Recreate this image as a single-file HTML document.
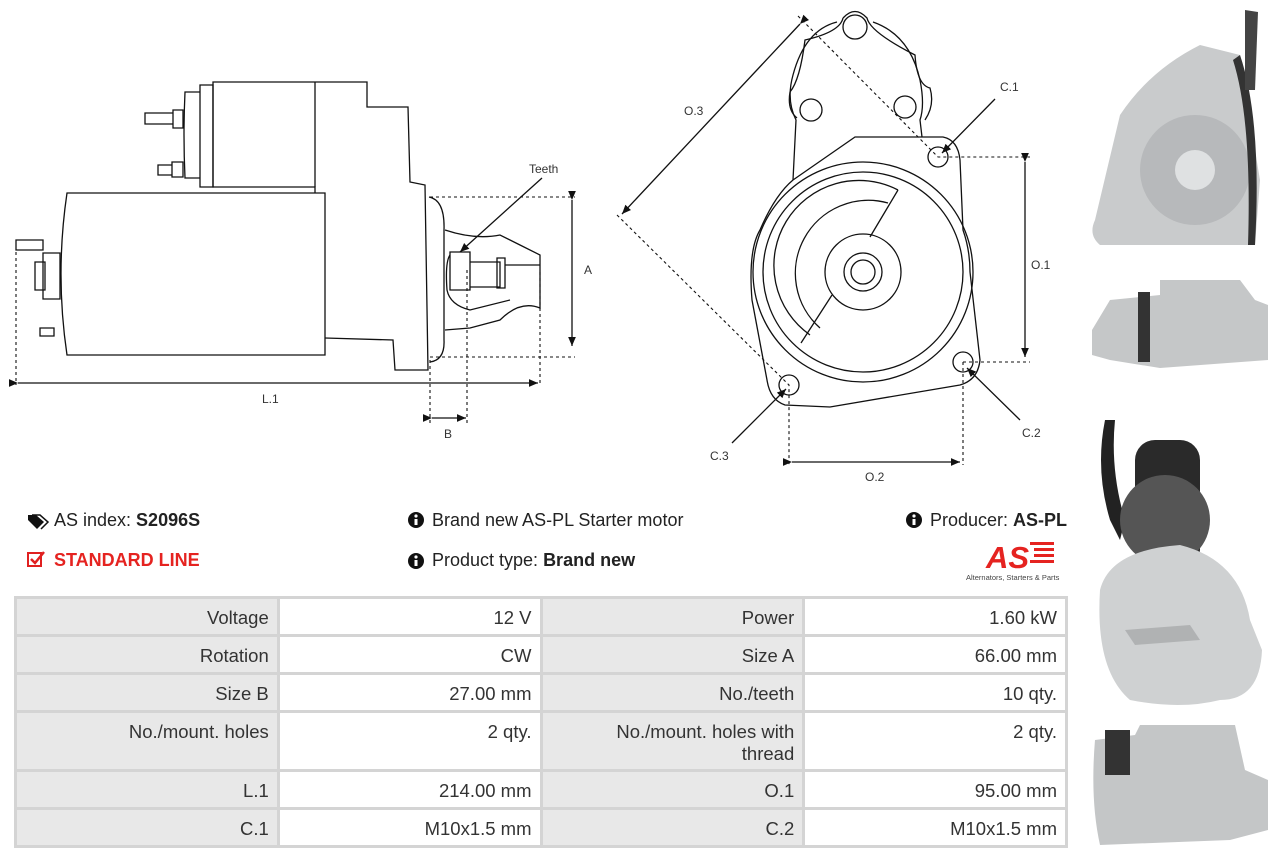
<!DOCTYPE html>
<html><head><meta charset="utf-8"><style>
body{margin:0;width:1275px;height:860px;background:#fff;position:relative;overflow:hidden;font-family:"Liberation Sans",sans-serif;color:#222}
.t{position:absolute;font-size:18px;white-space:nowrap}
table{position:absolute;left:14px;top:596px;border-collapse:collapse;font-size:18.5px;color:#333;table-layout:fixed;width:1054px}
td{border:3px solid #d4d4d4;text-align:right;vertical-align:top;padding:8px 8px 0 8px;height:27px;line-height:22px}
td.l{background:#e8e8e8}
</style></head><body>
<svg width="1275" height="860" style="position:absolute;left:0;top:0" fill="none" stroke="#111" stroke-width="1.3">
<defs><marker id="a" markerWidth="8" markerHeight="8" refX="7" refY="4" orient="auto"><path d="M0,1 L7,4 L0,7z" fill="#111" stroke="none"/></marker></defs>
<path d="M67,193 L325,193 L325,355 L67,355 Q55,274 67,193z"/>
<path d="M315,193 L315,187 L213,187 L213,82 L367,82 L367,107 L408,107 L410,182 L425,185 L428,370 L395,370 L393,340 L325,338"/>
<path d="M200,85 L213,85 L213,187 L200,187z M185,92 L200,92 L200,178 L185,178 Q183,135 185,92z"/>
<path d="M315,82 L315,187"/>
<path d="M173,110 L183,110 L183,128 L173,128z M145,113 L173,113 L173,124 L145,124z M172,162 L183,162 L183,177 L172,177z M158,165 L172,165 L172,175 L158,175z"/>
<path d="M43,253 L60,253 L60,299 L43,299z M16,240 L43,240 L43,250 L16,250z M35,262 L45,262 L45,290 L35,290z M40,328 L54,328 L54,336 L40,336z"/>
<path d="M429,197 Q445,200 444,230 L444,340 Q445,360 430,362"/>
<path d="M445,230 Q475,240 500,235 L520,245 L540,255 L540,308 Q520,300 500,320 L470,328 L445,330"/>
<path d="M450,252 L470,252 L470,290 L450,290z M470,262 L500,262 L500,287 L470,287z M497,258 L505,258 L505,288 L497,288z M505,265 L540,265"/>
<path d="M450,255 Q445,262 447,290 Q450,305 470,310 L510,300" />
<g stroke-dasharray="3,3" stroke-width="1.1">
<path d="M430,197 L575,197 M430,357 L575,357 M16,252 L16,385 M540,272 L540,385 M430,360 L430,425 M467,270 L467,425"/>
</g>
<path d="M572,200 L572,346" marker-start="url(#a)" marker-end="url(#a)"/>
<path d="M18,383 L538,383" marker-start="url(#a)" marker-end="url(#a)"/>
<path d="M432,418 L466,418" marker-start="url(#a)" marker-end="url(#a)"/>
<path d="M542,178 L460,252" marker-end="url(#a)"/>
<circle cx="855" cy="27" r="12"/>
<path d="M837,22 Q805,30 793,75 Q786,100 796,120 L793,180 M873,22 Q910,35 920,80 Q925,105 920,120 L922,137"/>
<path d="M843,18 Q855,5 867,18 Q870,32 915,55 Q917,85 930,88 Q935,105 925,120 M843,18 Q840,32 805,40 Q800,80 790,92 Q787,110 797,118"/>
<circle cx="811" cy="110" r="11"/><circle cx="905" cy="107" r="11"/>
<path d="M793,180 L855,137 L943,137 Q958,140 960,160 L963,230 Q970,250 970,272 L980,360 Q978,380 960,385 L830,407 L785,405 Q770,400 767,380 L752,300 Q748,250 760,230 Q775,195 793,180z"/>
<circle cx="863" cy="272" r="110"/><circle cx="863" cy="272" r="100"/>
<path d="M898,190 A85,85 0 0 0 810,335 M888,203 A73,73 0 0 0 820,328"/>
<path d="M898,190 L870,237 M832,295 L801,343"/>
<circle cx="863" cy="272" r="38"/><circle cx="863" cy="272" r="19"/><circle cx="863" cy="272" r="12"/>
<circle cx="938" cy="157" r="10"/><circle cx="963" cy="362" r="10"/><circle cx="789" cy="385" r="10"/>
<g stroke-dasharray="3,3" stroke-width="1.1">
<path d="M798,16 L938,157 L1030,157 M617,215 L789,385 L789,465 M963,362 L1030,362 M963,362 L963,465"/>
</g>
<path d="M800,24 L622,214" marker-start="url(#a)" marker-end="url(#a)"/>
<path d="M1025,162 L1025,357" marker-start="url(#a)" marker-end="url(#a)"/>
<path d="M792,462 L960,462" marker-start="url(#a)" marker-end="url(#a)"/>
<path d="M995,99 L942,153" marker-end="url(#a)"/>
<path d="M1020,420 L967,368" marker-end="url(#a)"/>
<path d="M732,443 L786,389" marker-end="url(#a)"/>
<g stroke="none">
<path d="M1095,220 L1120,115 Q1150,70 1200,45 L1240,55 L1250,120 L1260,180 L1255,245 L1100,245 Q1088,235 1095,220z" fill="#c9cbcc"/>
<circle cx="1195" cy="170" r="55" fill="#b7b9bb"/><circle cx="1195" cy="170" r="20" fill="#dfe1e2"/>
<path d="M1240,55 Q1262,120 1255,245 L1248,245 Q1252,120 1233,60z" fill="#333"/>
<path d="M1245,10 L1258,12 L1255,90 L1245,90z" fill="#444"/>
<path d="M1092,330 L1110,300 L1160,295 L1160,280 L1240,280 L1255,300 L1268,305 L1268,360 L1160,368 L1110,360 L1092,355z" fill="#c5c7c8"/>
<rect x="1138" y="292" width="12" height="70" fill="#333"/>
<path d="M1105,420 Q1095,470 1110,520 L1120,540 L1125,520 Q1110,470 1115,420z" fill="#222"/>
<rect x="1135" y="440" width="65" height="130" rx="20" fill="#2a2a2a"/>
<circle cx="1165" cy="520" r="45" fill="#555"/>
<path d="M1100,590 Q1110,550 1180,545 Q1240,560 1250,620 L1262,650 Q1260,700 1220,700 Q1180,710 1130,700 Q1095,670 1100,590z" fill="#cfd1d2"/>
<path d="M1125,630 L1190,625 L1200,640 L1135,645z" fill="#b0b2b3"/>
<path d="M1095,740 L1135,735 L1140,725 L1235,725 L1245,770 L1268,780 L1268,830 L1230,840 L1100,845 Q1090,800 1095,740z" fill="#c4c6c7"/>
<rect x="1105" y="730" width="25" height="45" fill="#333"/>
</g>
<path d="M28,515 L36,515 L44,522 L37,529 L28,520z" fill="#111" stroke="none"/>
<path d="M32,515 L40,515 L48,522 L41,529" stroke-width="1.5"/>
<rect x="28" y="553" width="13" height="13" stroke="#e02020" stroke-width="2"/>
<path d="M31,559 L35,563 L44,552" stroke="#e02020" stroke-width="2.5"/>
<g fill="#111" stroke="none"><circle cx="416" cy="520" r="8"/><circle cx="416" cy="561" r="8"/><circle cx="914" cy="520" r="8"/></g>
<g fill="#fff" stroke="none"><rect x="414.5" y="519" width="3" height="6"/><circle cx="416" cy="516" r="1.6"/><rect x="414.5" y="560" width="3" height="6"/><circle cx="416" cy="557" r="1.6"/><rect x="912.5" y="519" width="3" height="6"/><circle cx="914" cy="516" r="1.6"/></g>
<text x="986" y="568" font-family="Liberation Sans" font-weight="bold" font-style="italic" font-size="31" fill="#e52320" stroke="none">AS</text>
<g fill="#e52320" stroke="none"><rect x="1030" y="542" width="24" height="3"/><rect x="1034" y="548" width="20" height="3"/><rect x="1034" y="554" width="20" height="3"/><rect x="1030" y="560" width="24" height="3"/></g>
<text x="966" y="580" font-family="Liberation Sans" font-size="7.5" fill="#444" stroke="none">Alternators, Starters &amp; Parts</text>
<g font-family="Liberation Sans" font-size="12" fill="#333" stroke="none">
<text x="529" y="173">Teeth</text><text x="584" y="274">A</text><text x="262" y="403">L.1</text><text x="444" y="438">B</text>
<text x="684" y="115">O.3</text><text x="1000" y="91">C.1</text><text x="1031" y="269">O.1</text><text x="1022" y="437">C.2</text><text x="710" y="460">C.3</text><text x="865" y="481">O.2</text>
</g>
</svg>
<div class="t" style="left:54px;top:510px">AS index: <b>S2096S</b></div>
<div class="t" style="left:54px;top:550px;color:#e52320;font-weight:bold">STANDARD LINE</div>
<div class="t" style="left:432px;top:510px">Brand new AS-PL Starter motor</div>
<div class="t" style="left:432px;top:550px">Product type: <b>Brand new</b></div>
<div class="t" style="right:208px;top:510px">Producer: <b>AS-PL</b></div>
<table>
<tr><td class="l">Voltage</td><td>12 V</td><td class="l">Power</td><td>1.60 kW</td></tr>
<tr><td class="l">Rotation</td><td>CW</td><td class="l">Size A</td><td>66.00 mm</td></tr>
<tr><td class="l">Size B</td><td>27.00 mm</td><td class="l">No./teeth</td><td>10 qty.</td></tr>
<tr><td class="l" style="height:48px">No./mount. holes</td><td>2 qty.</td><td class="l">No./mount. holes with<br>thread</td><td>2 qty.</td></tr>
<tr><td class="l">L.1</td><td>214.00 mm</td><td class="l">O.1</td><td>95.00 mm</td></tr>
<tr><td class="l">C.1</td><td>M10x1.5 mm</td><td class="l">C.2</td><td>M10x1.5 mm</td></tr>
</table>
</body></html>
